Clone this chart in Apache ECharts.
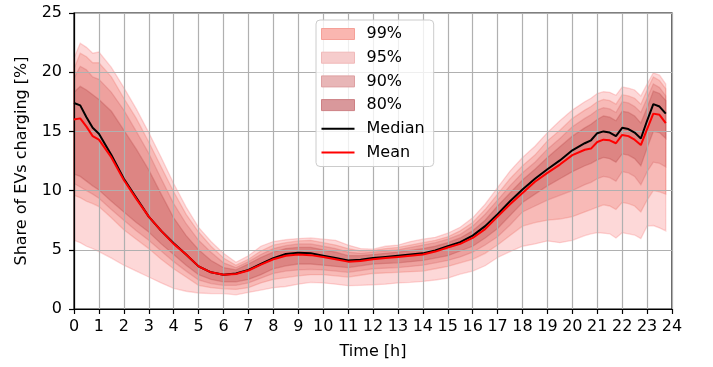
<!DOCTYPE html>
<html>
<head>
<meta charset="utf-8">
<script src="https://cdn.jsdelivr.net/npm/echarts@6.0.0/dist/echarts.min.js"></script>
<style>
html, body { margin: 0; padding: 0; background: #fff; }
#evChart { width: 713px; height: 367px; }
</style>
</head>
<body>
<div id="evChart"></div>
<script>
// time of day [h]
var hours = [0, 0.25, 0.5, 0.75, 1,
    1.5, 2, 2.5, 3, 3.5, 4, 4.5, 5, 5.5, 6,
    6.5, 7, 7.5, 8, 8.5, 9, 9.5, 10, 10.5, 11,
    11.5, 12, 12.5, 13, 13.5, 14, 14.5, 15, 15.5, 16,
    16.5, 17, 17.5, 18, 18.5, 19, 19.5, 20, 20.5,
    20.75, 21, 21.25, 21.5, 21.75, 22, 22.25, 22.5, 22.75, 23, 23.25, 23.5, 23.75];

var median = [17.4, 17.2, 16.2, 15.3, 14.8,
    13.0, 11.0, 9.4, 7.8, 6.6, 5.55, 4.6, 3.6, 3.1, 2.9,
    3.0, 3.3, 3.8, 4.3, 4.65, 4.75, 4.7, 4.5, 4.3, 4.1,
    4.15, 4.3, 4.4, 4.5, 4.6, 4.7, 4.95, 5.3, 5.65, 6.2,
    7.0, 8.0, 9.1, 10.1, 11.0, 11.8, 12.55, 13.4, 14.0,
    14.25, 14.85, 15.0, 14.9, 14.6, 15.3, 15.2, 14.9, 14.4, 15.9, 17.3, 17.1, 16.5];

var mean = [16.0, 16.1, 15.4, 14.6, 14.3,
    12.8, 10.9, 9.3, 7.8, 6.6, 5.5, 4.6, 3.6, 3.1, 2.9,
    2.95, 3.25, 3.75, 4.2, 4.5, 4.6, 4.55, 4.4, 4.2, 4.0,
    4.05, 4.2, 4.3, 4.4, 4.5, 4.6, 4.85, 5.2, 5.5, 6.0,
    6.75, 7.8, 8.85, 9.8, 10.75, 11.5, 12.2, 13.0, 13.45,
    13.55, 14.1, 14.3, 14.25, 14.0, 14.7, 14.6, 14.3, 13.85, 15.2, 16.5, 16.4, 15.7];

var q99hi = [21.2, 22.45, 22.1, 21.6, 21.7,
    20.4, 18.7, 16.9, 14.9, 12.8, 10.6, 8.6, 6.9, 5.7, 4.7,
    3.95, 4.5, 5.3, 5.7, 5.85, 5.95, 6.0, 5.9, 5.8, 5.4,
    5.1, 5.05, 5.3, 5.4, 5.7, 5.9, 6.05, 6.4, 6.9, 7.7,
    8.85, 10.25, 11.65, 12.8, 13.75, 14.9, 15.9, 16.8, 17.5,
    17.8, 18.2, 18.35, 18.3, 18.05, 18.75, 18.65, 18.5, 18.0, 19.0, 19.95, 19.75, 19.0];
var q99lo = [5.8, 5.6, 5.3, 5.1, 4.85,
    4.3, 3.7, 3.2, 2.7, 2.2, 1.75, 1.5, 1.35, 1.3, 1.3,
    1.2, 1.4, 1.6, 1.8, 1.9, 2.1, 2.25, 2.2, 2.1, 1.97,
    2.0, 2.05, 2.1, 2.2, 2.25, 2.33, 2.45, 2.6, 2.95, 3.2,
    3.65, 4.35, 4.85, 5.3, 5.5, 5.75, 5.6, 5.8, 6.2,
    6.35, 6.45, 6.4, 6.35, 6.0, 6.45, 6.35, 6.25, 5.95, 7.0, 7.05, 6.85, 6.6];

var q95hi = [20.3, 21.6, 21.3, 20.8, 20.8,
    19.6, 17.8, 16.1, 14.1, 12.0, 9.9, 8.0, 6.5, 5.3, 4.3,
    3.7, 4.2, 4.9, 5.4, 5.6, 5.75, 5.8, 5.6, 5.4, 5.1,
    4.9, 4.95, 5.1, 5.2, 5.4, 5.6, 5.8, 6.1, 6.6, 7.3,
    8.4, 9.7, 11.0, 12.1, 13.0, 14.2, 15.1, 16.1, 16.8,
    17.1, 17.5, 17.7, 17.6, 17.3, 18.1, 18.0, 17.8, 17.3, 18.5, 19.6, 19.3, 18.6];
var q95lo = [9.6, 9.4, 9.1, 8.9, 8.65,
    7.7, 6.7, 5.9, 5.1, 4.2, 3.4, 2.7, 2.0, 1.8, 1.7,
    1.65, 1.8, 2.2, 2.5, 2.65, 2.8, 2.9, 2.9, 2.8, 2.7,
    2.85, 3.0, 3.05, 3.1, 3.15, 3.2, 3.4, 3.6, 3.9, 4.2,
    4.7, 5.4, 6.2, 7.0, 7.3, 7.5, 7.6, 7.8, 8.2,
    8.4, 8.6, 8.8, 8.7, 8.4, 9.0, 8.9, 8.7, 8.2, 9.2, 10.0, 9.9, 9.7];

var q90hi = [19.5, 20.5, 20.2, 19.6, 19.4,
    18.3, 16.8, 15.0, 13.15, 11.0, 8.9, 7.2, 5.8, 4.8, 3.9,
    3.5, 4.0, 4.6, 5.1, 5.35, 5.5, 5.5, 5.3, 5.1, 4.8,
    4.7, 4.8, 4.9, 5.0, 5.2, 5.4, 5.6, 5.9, 6.3, 7.0,
    8.0, 9.2, 10.4, 11.5, 12.4, 13.5, 14.4, 15.4, 16.1,
    16.4, 16.8, 17.0, 16.9, 16.6, 17.5, 17.4, 17.1, 16.6, 17.8, 19.0, 18.7, 18.0];
var q90lo = [10.6, 10.3, 10.0, 9.7, 9.35,
    8.4, 7.5, 6.6, 5.8, 4.9, 4.0, 3.2, 2.45, 2.15, 2.0,
    2.0, 2.2, 2.6, 3.0, 3.2, 3.3, 3.35, 3.3, 3.2, 3.1,
    3.25, 3.4, 3.45, 3.5, 3.6, 3.7, 3.9, 4.1, 4.4, 4.8,
    5.4, 6.1, 7.1, 8.2, 8.7, 9.2, 9.6, 10.0, 10.5,
    10.7, 11.0, 11.2, 11.1, 10.8, 11.6, 11.5, 11.2, 10.5, 11.6, 12.4, 12.3, 12.0];

var q80hi = [18.3, 18.8, 18.5, 18.1, 17.7,
    16.7, 15.1, 13.5, 11.75, 9.7, 7.7, 6.2, 5.0, 4.1, 3.5,
    3.3, 3.8, 4.35, 4.8, 5.1, 5.2, 5.2, 5.0, 4.8, 4.5,
    4.5, 4.6, 4.7, 4.8, 4.95, 5.1, 5.3, 5.6, 6.0, 6.6,
    7.5, 8.7, 9.8, 10.9, 11.8, 12.8, 13.7, 14.6, 15.3,
    15.6, 16.0, 16.3, 16.2, 15.9, 16.7, 16.6, 16.3, 15.7, 17.0, 18.4, 18.2, 17.6];
var q80lo = [11.4, 11.2, 10.8, 10.4, 10.05,
    9.1, 8.2, 7.3, 6.5, 5.5, 4.6, 3.7, 2.9, 2.5, 2.3,
    2.3, 2.5, 2.9, 3.4, 3.65, 3.8, 3.8, 3.7, 3.6, 3.5,
    3.65, 3.8, 3.85, 3.9, 4.0, 4.1, 4.3, 4.5, 4.9, 5.3,
    6.0, 6.8, 7.9, 9.0, 9.7, 10.4, 11.0, 11.6, 12.1,
    12.3, 12.6, 12.8, 12.7, 12.4, 13.1, 13.0, 12.7, 12.1, 13.6, 15.0, 14.9, 14.4];

var bandNames = ['99%', '95%', '90%', '80%'];

var font = 'DejaVu Sans';

function pairs(ys) {
    return hours.map(function (h, i) { return [h, ys[i]]; });
}

// filled band between lower and upper quantile, drawn as one polygon
function band(name, lo, hi, fill, legendColor) {
    return {
        name: name,
        type: 'custom',
        z: 1,
        silent: true,
        itemStyle: { color: legendColor },
        data: [[0, 0]],
        renderItem: function (params, api) {
            var pts = [];
            for (var i = 0; i < hours.length; i++) {
                pts.push(api.coord([hours[i], hi[i]]));
            }
            for (var j = hours.length - 1; j >= 0; j--) {
                pts.push(api.coord([hours[j], lo[j]]));
            }
            return {
                type: 'polygon',
                shape: { points: pts },
                style: { fill: fill, stroke: fill, lineWidth: 1.3 }
            };
        }
    };
}

var lineIcon = 'path://M0,0M0,4.5H33V6.5H0ZM33,11';

var myChart = echarts.init(document.getElementById('evChart'));
var option = {
    animation: false,
    backgroundColor: '#fff',
    textStyle: { fontFamily: font },
    grid: {
        left: 74,
        right: 41,
        top: 13,
        bottom: 58,
        show: true,
        borderColor: '#000',
        borderWidth: 1.2
    },
    legend: {
        orient: 'vertical',
        left: 316,
        top: 20,
        z: 10,
        itemWidth: 33,
        itemHeight: 11,
        itemGap: 7.7,
        padding: [6, 9, 6, 5],
        borderColor: '#cccccc',
        borderWidth: 1,
        borderRadius: 4,
        backgroundColor: 'rgba(255,255,255,0.8)',
        textStyle: { fontFamily: font, fontSize: 16, color: '#000', lineHeight: 16, padding: [0, 0, 0, 7] },
        data: [
            { name: '99%', icon: 'rect', itemStyle: { color: 'rgb(250,182,176)', borderColor: 'rgb(245,160,152)', borderWidth: 1 } },
            { name: '95%', icon: 'rect', itemStyle: { color: 'rgb(246,204,204)', borderColor: 'rgb(240,185,185)', borderWidth: 1 } },
            { name: '90%', icon: 'rect', itemStyle: { color: 'rgb(232,182,183)', borderColor: 'rgb(222,160,162)', borderWidth: 1 } },
            { name: '80%', icon: 'rect', itemStyle: { color: 'rgb(217,152,155)', borderColor: 'rgb(205,128,132)', borderWidth: 1 } },
            { name: 'Median', icon: lineIcon, itemStyle: { color: '#000', borderWidth: 0 } },
            { name: 'Mean', icon: lineIcon, itemStyle: { color: '#ff0000', borderWidth: 0 } }
        ]
    },
    xAxis: {
        type: 'value',
        min: 0,
        max: 24,
        interval: 1,
        z: 2,
        name: 'Time [h]',
        nameLocation: 'middle',
        nameGap: 35,
        nameTextStyle: { fontFamily: font, fontSize: 16, color: '#000' },
        axisLine: { onZero: false, lineStyle: { color: '#000', width: 1.2 } },
        axisTick: { length: 5, lineStyle: { color: '#000', width: 1.2 } },
        axisLabel: { margin: 10, fontFamily: font, fontSize: 16, color: '#000' },
        splitLine: { show: true, lineStyle: { color: '#b0b0b0', width: 1.2 } }
    },
    yAxis: {
        type: 'value',
        min: 0,
        max: 25,
        interval: 5,
        z: 2,
        name: 'Share of EVs charging [%]',
        nameLocation: 'middle',
        nameGap: 44,
        nameTextStyle: { fontFamily: font, fontSize: 16, color: '#000' },
        axisLine: { show: true, onZero: false, lineStyle: { color: '#000', width: 1.2 } },
        axisTick: { show: true, length: 5, lineStyle: { color: '#000', width: 1.2 } },
        axisLabel: { margin: 12, fontFamily: font, fontSize: 16, color: '#000' },
        splitLine: { show: true, lineStyle: { color: '#b0b0b0', width: 1.2 } }
    },
    series: [
        band(bandNames[0], q99lo, q99hi, 'rgba(245,90,90,0.24)', 'rgb(250,182,176)'),
        band(bandNames[1], q95lo, q95hi, 'rgba(235,95,85,0.25)', 'rgb(246,204,204)'),
        band(bandNames[2], q90lo, q90hi, 'rgba(210,90,90,0.26)', 'rgb(232,182,183)'),
        band(bandNames[3], q80lo, q80hi, 'rgba(190,80,80,0.35)', 'rgb(217,152,155)'),
        {
            name: 'Median',
            type: 'line',
            z: 3,
            symbol: 'none',
            color: '#000',
            lineStyle: { color: '#000', width: 2 },
            data: pairs(median)
        },
        {
            name: 'Mean',
            type: 'line',
            z: 4,
            symbol: 'none',
            color: '#ff0000',
            lineStyle: { color: '#ff0000', width: 2 },
            data: pairs(mean)
        }
    ]
};
myChart.setOption(option);
</script>
</body>
</html>
